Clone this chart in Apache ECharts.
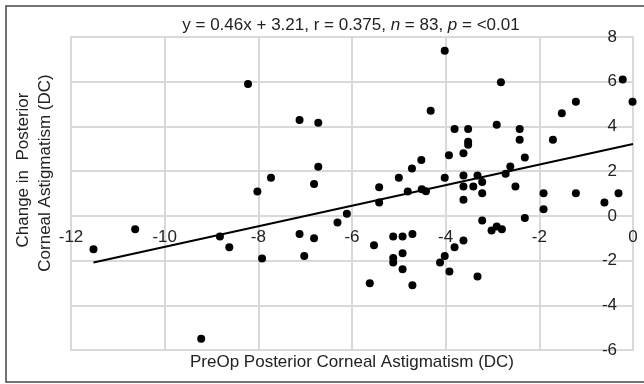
<!DOCTYPE html>
<html><head><meta charset="utf-8">
<script src="https://cdn.jsdelivr.net/npm/echarts@6/dist/echarts.min.js"></script>
<style>html,body{margin:0;padding:0;background:#fff}#c{width:644px;height:384px}</style>
</head><body><div id="c"></div>
<script>
const xVals = [-8.22,-7.12,-6.72,-6.72,-7.73,-6.81,-8.02,-5.42,-5.00,-4.81,-4.72,-4.52,-4.51,-4.42,-4.32,-4.02,-4.02,-3.93,-2.82,-3.81,-3.52,-3.52,-3.52,-3.62,-2.91,-2.42,-2.42,-2.31,-2.62,-2.72,-1.71,-1.52,-1.22,-0.22,-0.01,-3.62,-3.32,-3.62,-3.41,-3.22,-3.22,-2.51,-1.91,-1.22,-0.31,-3.62,-0.61,-1.91,-3.22,-2.31,-3.02,-2.91,-2.80,-3.62,-3.81,-4.02,-4.12,-3.92,-3.32,-5.42,-6.11,-6.31,-7.12,-6.81,-7.92,-7.02,-5.53,-5.12,-4.92,-4.71,-5.12,-5.12,-4.92,-4.92,-5.62,-4.71,-11.52,-10.63,-8.82,-8.62,-9.22];
const yVals = [5.90,4.29,4.17,2.20,1.71,1.42,1.09,1.28,1.71,1.09,2.12,2.50,1.19,1.10,4.70,7.39,1.71,2.71,5.98,3.89,3.89,3.32,3.18,2.80,4.08,3.89,3.40,2.61,2.21,1.88,3.40,4.59,5.10,6.10,5.10,1.80,1.80,1.31,1.31,1.51,1.01,1.31,1.01,1.01,1.01,0.72,0.60,0.30,-0.21,-0.10,-0.66,-0.48,-0.60,-1.10,-1.40,-1.79,-2.09,-2.49,-2.71,0.60,0.09,-0.30,-0.81,-1.00,-1.91,-1.79,-1.31,-0.92,-0.92,-0.81,-1.89,-2.09,-1.67,-2.39,-3.01,-3.10,-1.49,-0.60,-0.92,-1.40,-5.50];
const trendX = [-11.52, 0];
const trendY = [-2.09, 3.21];
const xTicks = [-12,-10,-8,-6,-4,-2,0];
const yTicks = [-6,-4,-2,0,2,4,6,8];

const FONT = 'Liberation Sans, Arial, sans-serif';
const GRID_TOP = 37, GRID_BOTTOM = 34, H = 384;
const plotH = H - GRID_TOP - GRID_BOTTOM;
const yMin = yTicks[0], yMax = yTicks[yTicks.length-1];
// move x-axis (labels) up to the y = 0 line
const xAxisOffset = -plotH * (0 - yMin) / (yMax - yMin);

const chart = echarts.init(document.getElementById('c'), null, {renderer:'canvas'});
const pts = xVals.map((x,i)=>[x,yVals[i]]);
const trend = trendX.map((x,i)=>[x,trendY[i]]);
const gridColor = '#d9d9d9';
chart.setOption({
  animation:false,
  grid:{left:71,right:11,top:GRID_TOP,bottom:GRID_BOTTOM,show:true,borderColor:gridColor,borderWidth:2},
  xAxis:{type:'value',position:'bottom',offset:xAxisOffset,min:xTicks[0],max:xTicks[xTicks.length-1],interval:2,
    axisLine:{show:false,onZero:false},
    axisTick:{show:false},
    splitLine:{show:true,lineStyle:{color:gridColor,width:2}},
    axisLabel:{color:'#222',fontSize:17,fontFamily:FONT,margin:13}},
  yAxis:{type:'value',position:'right',min:yMin,max:yMax,interval:2,
    axisLine:{show:false,onZero:false},axisTick:{show:false},
    splitLine:{show:true,lineStyle:{color:gridColor,width:2}},
    axisLabel:{inside:true,color:'#222',fontSize:17,fontFamily:FONT,margin:16}},
  series:[
    {type:'scatter',data:pts,symbol:'circle',symbolSize:8,itemStyle:{color:'#000',opacity:1},z:3},
    {type:'line',data:trend,showSymbol:false,lineStyle:{color:'#000',width:2},z:4}
  ],
  graphic:[
    {type:'rect',shape:{x:6,y:6,width:650,height:376},style:{fill:'none',stroke:'#444',lineWidth:1.5},silent:true},
    {type:'text',x:351,y:25,style:{
      text:'y = 0.46x + 3.21, r = 0.375, {i|n} = 83, {i|p} = <0.01',
      rich:{i:{fontStyle:'italic',fontSize:17,fontFamily:FONT,fill:'#222'}},
      font:'17px '+FONT,fill:'#222',align:'center',verticalAlign:'middle'}},
    {type:'text',x:352,y:362,style:{text:'PreOp Posterior Corneal Astigmatism (DC)',font:'17px '+FONT,fill:'#222',align:'center',verticalAlign:'middle'}},
    {type:'text',x:23,y:170,rotation:Math.PI/2,style:{text:'Change in  Posterior',font:'17px '+FONT,fill:'#222',align:'center',verticalAlign:'middle'}},
    {type:'text',x:45,y:173,rotation:Math.PI/2,style:{text:'Corneal Astigmatism (DC)',font:'17px '+FONT,fill:'#222',align:'center',verticalAlign:'middle'}}
  ]
});
</script></body></html>
